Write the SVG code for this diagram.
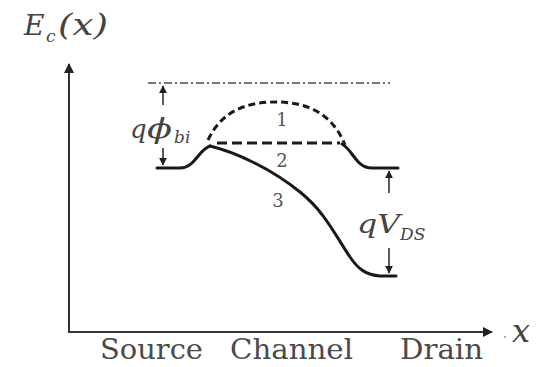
<svg xmlns="http://www.w3.org/2000/svg" width="539" height="367" viewBox="0 0 539 367">
<style>
.ax{stroke:#333;stroke-width:2;fill:none}
.solid{stroke:#1a1a1a;stroke-width:3;fill:none;stroke-linecap:round}
.dash{stroke:#1a1a1a;stroke-width:3;fill:none;stroke-dasharray:7 4}
.dash2{stroke:#1a1a1a;stroke-width:3;fill:none;stroke-dasharray:10 5}
.dd{stroke:#777;stroke-width:1.8;fill:none;stroke-dasharray:8 3 2 3}
.arr{stroke:#333;stroke-width:1.6;fill:none}
.math{font-family:"DejaVu Serif",serif;font-style:italic;fill:#444}
.lab{font-family:"DejaVu Serif",serif;fill:#4a4a4a}
.num{font-family:"DejaVu Serif",serif;fill:#555;font-size:18px}
</style>
<defs>
<marker id="ah" viewBox="0 0 10 10" refX="9" refY="5" markerWidth="5" markerHeight="5" orient="auto-start-reverse" markerUnits="strokeWidth">
<path d="M0,0 L10,5 L0,10 z" fill="#222"/>
</marker>
</defs>
<g id="axes">
<line class="ax" x1="69" y1="332" x2="69" y2="64" marker-end="url(#ah)"/>
<line class="ax" x1="68" y1="332" x2="492" y2="332" marker-end="url(#ah)"/>
<circle cx="505" cy="337" r="1" fill="#999"/>
</g>
<g id="connectors">
<line class="dd" x1="148" y1="83" x2="390" y2="83"/>
<line class="arr" x1="163" y1="105" x2="163" y2="86" marker-end="url(#ah)"/>
<line class="arr" x1="163" y1="148" x2="163" y2="165" marker-end="url(#ah)"/>
<line class="arr" x1="389" y1="193" x2="389" y2="171" marker-end="url(#ah)"/>
<line class="arr" x1="389" y1="248" x2="389" y2="273" marker-end="url(#ah)"/>
</g>
<g id="curves">
<path class="solid" d="M157,168 L180,168 C195,168 198,150 210,146"/>
<path class="solid" d="M210,146 C235,152 270,168 300,192 C325,212 335,235 350,257 C358,269 366,275 380,276 L396,276"/>
<path class="solid" d="M342,144 C353,150 356,168 372,168 L398,168"/>
<path class="dash" d="M208,140 C222,110 248,102 276,102 C305,102 332,112 345,145"/>
<line class="dash2" x1="217" y1="143" x2="340" y2="143"/>
</g>
<g id="labels">
<text class="math" x="24" y="35" font-size="28">E</text>
<text class="math" x="46" y="42" font-size="17">c</text>
<text class="math" x="58" y="35" font-size="30" textLength="50" lengthAdjust="spacingAndGlyphs">(x)</text>
<text class="math" x="512" y="342" font-size="32">x</text>
<text class="math" x="130" y="138" font-size="26">q</text>
<text class="math" x="147" y="138" font-size="28" textLength="25" lengthAdjust="spacingAndGlyphs">ϕ</text>
<text class="math" x="174" y="143" font-size="17">bi</text>
<text class="math" x="357" y="233" font-size="26" textLength="43" lengthAdjust="spacingAndGlyphs">qV</text>
<text class="math" x="400" y="240" font-size="17">DS</text>
<text class="num" x="282" y="126" text-anchor="middle">1</text>
<text class="num" x="282" y="167" text-anchor="middle">2</text>
<text class="num" x="278" y="207" text-anchor="middle">3</text>
<text class="lab" x="100" y="359" font-size="28" textLength="103" lengthAdjust="spacingAndGlyphs">Source</text>
<text class="lab" x="230" y="359" font-size="28" textLength="123" lengthAdjust="spacingAndGlyphs">Channel</text>
<text class="lab" x="400" y="359" font-size="28" textLength="83" lengthAdjust="spacingAndGlyphs">Drain</text>
</g>
</svg>
